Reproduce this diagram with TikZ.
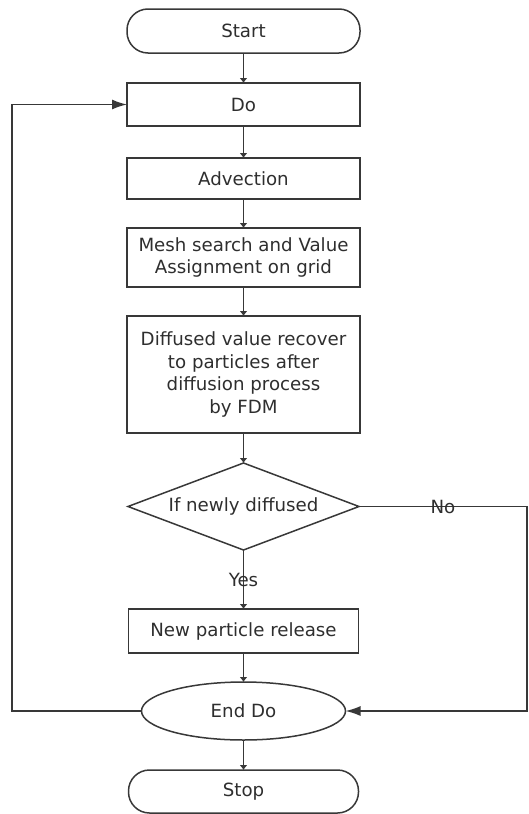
\documentclass[tikz,border=0pt]{standalone}
\usepackage{fontspec}
\setmainfont{DejaVu Sans}
\usetikzlibrary{arrows.meta,positioning,shapes.geometric}
\definecolor{FCLine}{HTML}{383838}
\definecolor{FCText}{HTML}{2E2E2E}
\tikzset{
  fcBase/.style={
    draw=FCLine, line width=1.5bp, text=FCText, align=center,
    inner sep=0pt, outer sep=0pt, font=\fontsize{18.2bp}{22.7bp}\selectfont
  },
  fcTerm/.style={fcBase, rectangle, rounded corners=21bp, minimum width=233bp, minimum height=#1},
  fcTerm/.default=44bp,
  fcBox/.style={fcBase, rectangle, minimum width=233bp, minimum height=#1},
  fcBox/.default=43bp,
  fcCond/.style={fcBase, diamond, aspect=2.65, minimum width=231bp, minimum height=87bp},
  fcEnd/.style={fcBase, ellipse, minimum width=204bp, minimum height=58bp},
  fcArrow/.style={-{Latex[length=5bp,width=8bp]}, draw=FCLine, line width=1.5bp},
  fcBack/.style={-{Latex[length=15bp,width=10bp]}, draw=FCLine, line width=1.5bp},
  fcLabel/.style={text=FCText, inner sep=0pt, font=\fontsize{18.2bp}{22.7bp}\selectfont}
}
\begin{document}
\begin{tikzpicture}
  \useasboundingbox (0,0) rectangle (529bp,-814bp);
  \node[fcTerm] (start) at (243.5bp,-31bp) {Start};
  \node[fcBox, below=30bp of start] (do) {Do};
  \node[fcBox=41bp, below=32bp of do] (advect) {Advection};
  \node[fcBox=59bp, below=29bp of advect] (mesh) {Mesh search and Value\\Assignment on grid};
  \node[fcBox=117bp, below=29bp of mesh] (recover) {Diffused value recover\\to particles after\\diffusion process\\by FDM};
  \node[fcCond, below=30bp of recover] (cond) {If newly diffused};
  \node[fcBox=44bp, minimum width=230bp, below=59bp of cond] (release) {New particle release};
  \node[fcEnd, below=29bp of release] (enddo) {End Do};
  \node[fcTerm=43bp, minimum width=230bp, below=30bp of enddo] (stop) {Stop};

  \coordinate (leftrail) at (12bp,0);
  \coordinate (rightrail) at (527bp,0);

  \draw[fcArrow] (start) -- (do);
  \draw[fcArrow] (do) -- (advect);
  \draw[fcArrow] (advect) -- (mesh);
  \draw[fcArrow] (mesh) -- (recover);
  \draw[fcArrow] (recover) -- (cond);
  \draw[fcArrow] (cond) -- node[fcLabel]{Yes} (release);
  \draw[fcArrow] (release) -- (enddo);
  \draw[fcArrow] (enddo) -- (stop);

  % loop back and skip branch
  \draw[fcBack] (enddo.west) -- (enddo.west -| leftrail) |- (do.west);
  \draw[fcBack] (cond.east) -- node[fcLabel]{No} (cond.east -| rightrail) |- (enddo.east);
\end{tikzpicture}
\end{document}
